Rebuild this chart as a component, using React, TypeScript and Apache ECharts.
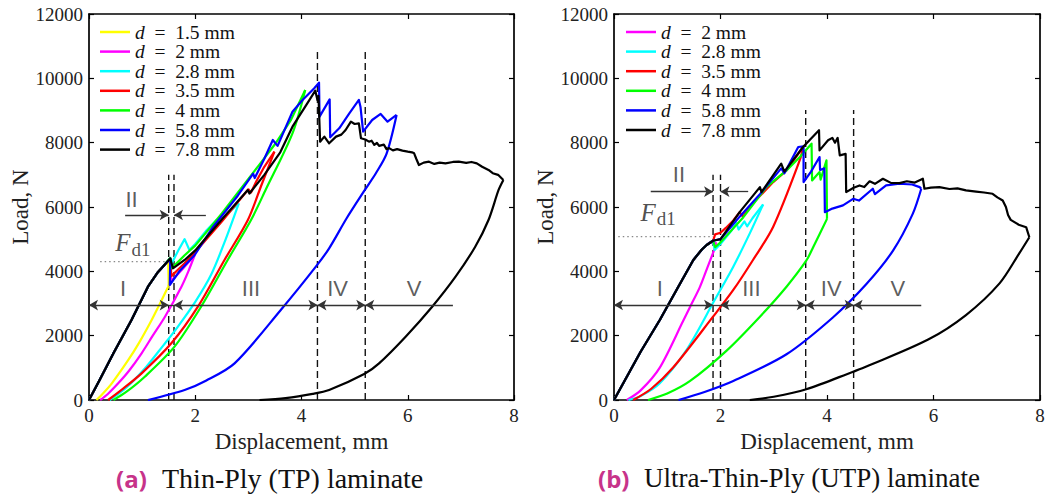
import React, { useEffect, useRef } from 'react';
import * as echarts from 'echarts';

const SERIF = '"Liberation Serif", "Times New Roman", serif';
const SANS = '"Liberation Sans", Arial, sans-serif';

// ---------- data: (a) Thin-Ply ----------
const tpNames = ['1.5 mm', '2 mm', '2.8 mm', '3.5 mm', '4 mm', '5.8 mm', '7.8 mm'];
const tpColors = ['#ffff00', '#ff00ff', '#00ffff', '#ff0000', '#00ff00', '#0000ff', '#000000'];
const tpInitial: number[][] = [[0, 0], [0.2, 620], [0.46, 1452], [0.8, 2487], [1.11, 3523], [1.3, 3980], [1.39, 4145]];
const tpD15Load: number[][] = [...tpInitial, [1.49, 4330], [1.5, 3600], [1.49, 3523]];
const tpD15Unload: number[][] = [[1.49, 3523], [1.3, 2880], [1.18, 2487], [0.95, 1800], [0.74, 1244], [0.43, 518], [0.25, 180], [0.14, 0]];
const tpD2Load: number[][] = [...tpInitial, [1.53, 4400], [1.55, 3700], [1.75, 4050], [1.99, 4508]];
const tpD2Unload: number[][] = [[1.99, 4508], [1.87, 4000], [1.74, 3523], [1.43, 2590], [1.2, 2000], [0.99, 1452], [0.75, 900], [0.55, 518], [0.35, 180], [0.21, 0]];
const tpD28Load: number[][] = [...tpInitial, [1.53, 4400], [1.56, 4250], [1.68, 4650], [1.8, 5000], [1.89, 4664], [2.0, 4850], [2.2, 5250], [2.4, 5596], [2.46, 5480], [2.55, 5700], [2.82, 6115]];
const tpD28Unload: number[][] = [[2.82, 6115], [2.55, 4900], [2.3, 3900], [2.0, 3050], [1.65, 2229], [1.4, 1700], [1.08, 1036], [0.7, 380], [0.39, 0]];
const tpD35Load: number[][] = [...tpInitial, [1.53, 4400], [1.55, 3850], [1.8, 4250], [2.0, 4600], [2.5, 5550], [3.0, 6550], [3.05, 6450], [3.15, 6800], [3.3, 7250], [3.49, 7720]];
const tpD35Unload: number[][] = [[3.49, 7720], [3.25, 6700], [2.99, 5596], [2.55, 4353], [2.05, 2901], [1.55, 1763], [0.99, 829], [0.6, 300], [0.36, 0]];
const tpD4Load: number[][] = [...tpInitial, [1.53, 4420], [1.56, 4100], [1.8, 4500], [2.0, 4800], [2.5, 5800], [2.96, 6788], [3.2, 7300], [3.5, 7950], [3.8, 8700], [4.07, 9638]];
const tpD4Unload: number[][] = [[4.07, 9638], [3.83, 8290], [3.33, 6550], [3.05, 5596], [2.61, 4353], [2.11, 2901], [1.61, 1659], [1.05, 725], [0.7, 250], [0.46, 0]];
const tpD58Load: number[][] = [...tpInitial, [1.53, 4400], [1.52, 3575], [1.71, 4021], [1.99, 4508], [2.33, 5372], [2.8, 6350], [3.09, 7034], [3.12, 6900], [3.3, 7500], [3.46, 8083], [3.55, 7900], [3.83, 8963], [4.02, 9327], [4.24, 9690], [4.33, 9865], [4.34, 8808], [4.53, 9347], [4.54, 8166], [4.71, 8446], [4.9, 8913], [5.08, 9327], [5.11, 9120], [5.16, 8342], [5.33, 8705], [5.49, 8892], [5.62, 8653], [5.79, 8861]];
const tpD58Unload: number[][] = [[5.79, 8861], [5.6, 7650], [5.4, 7050], [5.18, 6500], [4.85, 5650], [4.52, 4716], [4.27, 4145], [3.61, 2798], [2.74, 1140], [2.2, 600], [1.8, 311], [1.11, 0]];
const tpD78Load: number[][] = [...tpInitial, [1.53, 4400], [1.58, 4094], [1.8, 4353], [2.0, 4650], [2.49, 5596], [2.99, 6530], [3.02, 6420], [3.3, 7000], [3.6, 7700], [3.83, 8497], [4.1, 9200], [4.26, 9616], [4.3, 9327], [4.32, 9451], [4.35, 8031], [4.43, 8187], [4.52, 7980], [4.65, 8187], [4.75, 8250], [4.83, 8394], [4.93, 8653], [5.0, 8580], [5.08, 8600], [5.12, 8136], [5.2, 8100], [5.27, 8031], [5.32, 8060], [5.37, 7930], [5.42, 7990], [5.46, 7900], [5.55, 7940], [5.6, 7800], [5.65, 7830], [5.72, 7760], [5.8, 7800], [5.9, 7751], [6.0, 7720], [6.08, 7700], [6.12, 7669], [6.16, 7500], [6.21, 7306], [6.3, 7380], [6.4, 7409], [6.5, 7340], [6.6, 7380], [6.71, 7358], [6.85, 7400], [6.96, 7409], [7.1, 7370], [7.2, 7400], [7.3, 7358], [7.4, 7250], [7.52, 7151], [7.6, 7050], [7.7, 7000], [7.8, 6840]];
const tpD78Unload: number[][] = [[7.8, 6840], [7.71, 6529], [7.52, 5596], [7.27, 4766], [6.9, 3834], [6.46, 2901], [5.96, 1969], [5.46, 1140], [5.18, 808], [4.52, 311], [4.21, 190], [3.7, 60], [3.21, 0]];
const tpLoads = [tpD15Load, tpD2Load, tpD28Load, tpD35Load, tpD4Load, tpD58Load, tpD78Load];
const tpUnloads = [tpD15Unload, tpD2Unload, tpD28Unload, tpD35Unload, tpD4Unload, tpD58Unload, tpD78Unload];

const tpDashX = [1.5, 1.6, 4.3, 5.2];
const tpDashTop = [7000, 7000, 10830, 10830];
const tpFd1Line = [[0.21, 4300], [1.5, 4300]];
const tpArrowY = 2950;
const tpArrowSegs: [number, number, string][] = [[0, 1.5, 'both'], [1.5, 1.6, 'none'], [1.6, 4.3, 'both'], [4.3, 5.2, 'both'], [5.2, 6.85, 'start']];
const tpIIY = 5752;
const tpIIArrows = [[0.68, 1.5], [2.2, 1.6]];
const tpRegionText = ['I', 'II', 'III', 'IV', 'V'];
const tpRegionX = [0.64, 0.8, 3.05, 4.68, 6.12];
const tpRegionY = [3472, 6218, 3472, 3472, 3472];
const tpFPos = [0.64, 4897];
const tpSubPos = [0.98, 4694];

// ---------- data: (b) Ultra-Thin-Ply ----------
const utpNames = ['2 mm', '2.8 mm', '3.5 mm', '4 mm', '5.8 mm', '7.8 mm'];
const utpColors = ['#ff00ff', '#00ffff', '#ff0000', '#00ff00', '#0000ff', '#000000'];
const utpInitial: number[][] = [[0, 0], [0.5, 1500], [0.86, 2487], [1.2, 3500], [1.49, 4353], [1.65, 4680], [1.74, 4819]];
const utpD2Load: number[][] = [...utpInitial, [1.8, 4900], [1.93, 4870]];
const utpD2Unload: number[][] = [[1.93, 4870], [1.75, 4100], [1.61, 3501], [1.43, 2901], [1.3, 2462], [0.86, 1008], [0.5, 300], [0.24, 0]];
const utpD28Load: number[][] = [...utpInitial, [1.86, 4950], [1.89, 4664], [2.0, 4850], [2.2, 5250], [2.3, 5500], [2.34, 5300], [2.45, 5550], [2.5, 5400], [2.6, 5650], [2.8, 6080]];
const utpD28Unload: number[][] = [[2.8, 6080], [2.55, 5180], [2.24, 4144], [1.89, 3108], [1.36, 1554], [0.86, 518], [0.5, 120], [0.27, 0]];
const utpD35Load: number[][] = [...utpInitial, [1.86, 4950], [1.9, 5150], [2.0, 5200], [2.1, 5350], [2.24, 5579], [2.36, 5839], [2.42, 5700], [2.6, 6100], [2.99, 6774], [3.24, 7138], [3.55, 7865]];
const utpD35Unload: number[][] = [[3.55, 7865], [3.49, 7462], [2.99, 5388], [2.61, 4353], [2.24, 3420], [1.86, 2590], [1.11, 1008], [0.7, 350], [0.36, 0]];
const utpD4Load: number[][] = [...utpInitial, [1.86, 4950], [1.9, 4750], [2.0, 4900], [2.43, 5683], [2.86, 6618], [3.24, 7138], [3.49, 7553], [3.71, 7969], [3.72, 6826], [3.86, 7086], [3.88, 6850], [3.99, 7450], [4.0, 5631]];
const utpD4Unload: number[][] = [[4.0, 5631], [3.74, 4748], [3.61, 4330], [3.24, 3523], [2.74, 2590], [2.11, 1527], [1.43, 592], [1.0, 200], [0.64, 0]];
const utpD58Load: number[][] = [...utpInitial, [1.86, 4950], [2.0, 5000], [2.36, 5700], [2.74, 6400], [3.14, 7200], [3.2, 7050], [3.46, 7865], [3.56, 7886], [3.56, 6774], [3.7, 7100], [3.86, 7553], [3.87, 7150], [3.95, 7200], [3.96, 5839], [4.1, 5950], [4.3, 6050], [4.49, 6255], [4.6, 6200], [4.86, 6567], [4.9, 6400], [5.11, 6670], [5.36, 6722], [5.6, 6700], [5.74, 6618], [5.77, 6567]];
const utpD58Unload: number[][] = [[5.77, 6567], [5.61, 5787], [5.24, 4644], [4.74, 3605], [4.11, 2566], [3.24, 1423], [2.24, 592], [1.7, 250], [1.21, 0]];
const utpD78Load: number[][] = [...utpInitial, [1.86, 4950], [2.0, 5000], [2.36, 5839], [2.74, 6618], [2.77, 6463], [3.14, 7346], [3.2, 7100], [3.55, 7865], [3.85, 8385], [3.86, 7761], [4.02, 8073], [4.1, 8150], [4.15, 8000], [4.2, 8150], [4.24, 7605], [4.35, 7650], [4.36, 6463], [4.5, 6600], [4.61, 6670], [4.7, 6620], [4.8, 6800], [4.9, 6720], [5.05, 6878], [5.2, 6750], [5.36, 6743], [5.5, 6800], [5.65, 6760], [5.8, 6878], [5.83, 6567], [5.95, 6600], [6.11, 6618], [6.3, 6560], [6.45, 6580], [6.61, 6515], [6.8, 6480], [6.95, 6450], [7.11, 6411], [7.2, 6300], [7.3, 6203], [7.36, 6000], [7.4, 5750], [7.45, 5600], [7.6, 5450], [7.74, 5372], [7.8, 5060]];
const utpD78Unload: number[][] = [[7.8, 5060], [7.61, 4558], [7.24, 3626], [6.61, 2642], [5.9, 1880], [4.74, 1040], [4.49, 880], [3.61, 332], [3.0, 100], [2.55, 0]];
const utpLoads = [utpD2Load, utpD28Load, utpD35Load, utpD4Load, utpD58Load, utpD78Load];
const utpUnloads = [utpD2Unload, utpD28Unload, utpD35Unload, utpD4Unload, utpD58Unload, utpD78Unload];

const utpDashX = [1.86, 2.0, 3.6, 4.5];
const utpDashTop = [7000, 7000, 9016, 9016];
const utpFd1Line = [[0.08, 5081], [1.86, 5081]];
const utpArrowY = 2954;
const utpArrowSegs: [number, number, string][] = [[0, 1.86, 'both'], [1.86, 2.0, 'none'], [2.0, 3.6, 'both'], [3.6, 4.5, 'both'], [4.5, 5.77, 'start']];
const utpIIY = 6476;
const utpIIArrows = [[0.69, 1.86], [2.52, 2.0]];
const utpRegionText = ['I', 'II', 'III', 'IV', 'V'];
const utpRegionX = [0.86, 1.22, 2.58, 4.08, 5.33];
const utpRegionY = [3472, 6995, 3472, 3472, 3472];
const utpFPos = [0.64, 5829];
const utpSubPos = [0.98, 5627];

const captionA = ['(a)', 'Thin-Ply (TP) laminate'];
const captionB = ['(b)', 'Ultra-Thin-Ply (UTP) laminate'];

function buildGridSeries(g: number, names: string[], colors: string[], loads: number[][][], unloads: number[][][], dashX: number[], dashTop: number[], fd1: number[][], arrowY: number, segs: [number, number, string][], iiY: number, iiArrows: number[][], regText: string[], regX: number[], regY: number[], fPos: number[], subPos: number[]) {
  const ax = { xAxisIndex: g * 2, yAxisIndex: g * 2 };
  const out: any[] = [];
  dashX.forEach((x, i) => {
    out.push({ ...ax, type: 'line', name: '_dash' + g + i, data: [[x, 0], [x, dashTop[i]]], showSymbol: false, symbol: 'none', silent: true, z: 1,
      lineStyle: { color: '#111', width: 1.4, type: [7, 4] } });
  });
  out.push({ ...ax, type: 'line', name: '_fd1' + g, data: fd1, showSymbol: false, symbol: 'none', silent: true, z: 1,
    lineStyle: { color: '#888', width: 1.2, type: [1.5, 3] } });
  const arrowSym = (on: boolean) => (on ? 'arrow' : 'none');
  const segData = segs.map(([a, b, mode]) => [
    { coord: [a, arrowY], symbol: arrowSym(mode === 'both' || mode === 'start') },
    { coord: [b, arrowY], symbol: arrowSym(mode === 'both' || mode === 'end') },
  ]);
  const iiData = iiArrows.map(([a, b]) => [
    { coord: [a, iiY], symbol: 'none' },
    { coord: [b, iiY], symbol: 'arrow' },
  ]);
  out.push({ ...ax, type: 'line', name: '_arrows' + g, data: [], showSymbol: false, silent: true, z: 2,
    markLine: { silent: true, animation: false, symbolSize: [8, 9], label: { show: false },
      lineStyle: { color: '#333', width: 1.3, type: 'solid' }, emphasis: { disabled: true },
      data: [...segData, ...iiData] } });
  loads.forEach((d, i) => {
    out.push({ ...ax, type: 'line', name: names[i], data: d, showSymbol: false, symbol: 'none', silent: true, z: 3,
      lineStyle: { color: colors[i], width: 2.2, join: 'round' }, itemStyle: { color: colors[i] } });
    // unloading branch: a smooth curve back to zero load
    out.push({ ...ax, type: 'line', name: names[i], data: unloads[i], showSymbol: false, symbol: 'none', silent: true, z: 3,
      smooth: 0.3,
      lineStyle: { color: colors[i], width: 2.2, join: 'round' }, itemStyle: { color: colors[i] } });
  });
  const labelData: any[] = regText.map((t, i) => ({ value: [regX[i], regY[i]],
    label: { show: true, formatter: t, position: 'inside', fontFamily: SANS, fontSize: 22, color: '#333' } }));
  labelData.push({ value: fPos, label: { show: true, formatter: 'F', position: 'inside', fontFamily: SERIF, fontStyle: 'italic', fontSize: 25, color: '#222' } });
  labelData.push({ value: subPos, label: { show: true, formatter: 'd1', position: 'inside', fontFamily: SERIF, fontSize: 19, color: '#222' } });
  out.push({ ...ax, type: 'scatter', name: '_labels' + g, data: labelData, symbolSize: 1, silent: true, z: 4,
    itemStyle: { color: 'rgba(0,0,0,0)' } });
  return out;
}

const plainNum = (v: number) => String(v);

function xAxes(gridIndex: number) {
  const line = { show: true, onZero: false, lineStyle: { color: '#000', width: 1.7 } };
  const tick = { show: true, inside: true, length: 5, lineStyle: { color: '#000', width: 1.2 } };
  return [
    { type: 'value', gridIndex, min: 0, max: 8, interval: 2, position: 'bottom', axisLine: line, axisTick: tick,
      axisLabel: { fontFamily: SERIF, fontSize: 19, color: '#222', margin: 6, formatter: plainNum }, splitLine: { show: false },
      name: 'Displacement, mm', nameLocation: 'middle', nameGap: 23, nameTextStyle: { fontFamily: SERIF, fontSize: 23, color: '#222' } },
    { type: 'value', gridIndex, min: 0, max: 8, interval: 2, position: 'top', axisLine: line, axisTick: tick,
      axisLabel: { show: false }, splitLine: { show: false } },
  ];
}
function yAxes(gridIndex: number) {
  const line = { show: true, onZero: false, lineStyle: { color: '#000', width: 1.7 } };
  const tick = { show: true, inside: true, length: 5, lineStyle: { color: '#000', width: 1.2 } };
  return [
    { type: 'value', gridIndex, min: 0, max: 12000, interval: 2000, position: 'left', axisLine: line, axisTick: tick,
      axisLabel: { fontFamily: SERIF, fontSize: 19, color: '#222', margin: 6, formatter: plainNum }, splitLine: { show: false },
      name: 'Load, N', nameLocation: 'middle', nameGap: 57, nameTextStyle: { fontFamily: SERIF, fontSize: 23, color: '#222' } },
    { type: 'value', gridIndex, min: 0, max: 12000, interval: 2000, position: 'right', axisLine: line, axisTick: tick,
      axisLabel: { show: false }, splitLine: { show: false } },
  ];
}

function legend(names: string[], left: number) {
  return {
    data: names, left, top: 22, orient: 'vertical', padding: 0, itemGap: -0.4, itemWidth: 30, itemHeight: 2.5, icon: 'rect',
    selectedMode: false,
    formatter: (n: string) => `{i|d}{r|\u2002=\u2002${n}}`,
    textStyle: { color: '#111', fontFamily: SERIF, fontSize: 19.5,
      rich: { i: { fontFamily: SERIF, fontStyle: 'italic', fontSize: 19.5 }, r: { fontFamily: SERIF, fontSize: 19.5 } } },
  };
}

export default function App() {
  const ref = useRef<HTMLDivElement>(null);
  useEffect(() => {
    if (!ref.current) return;
    const chart = echarts.init(ref.current, null, { renderer: 'svg' });
    const option: any = {
      animation: false,
      backgroundColor: '#fff',
      grid: [
        { left: 89, top: 14, width: 425, height: 386 },
        { left: 614, top: 14, width: 426, height: 386 },
      ],
      xAxis: [...xAxes(0), ...xAxes(1)],
      yAxis: [...yAxes(0), ...yAxes(1)],
      legend: [legend(tpNames, 100), legend(utpNames, 626)],
      series: [
        ...buildGridSeries(0, tpNames, tpColors, tpLoads, tpUnloads, tpDashX, tpDashTop, tpFd1Line, tpArrowY, tpArrowSegs, tpIIY, tpIIArrows, tpRegionText, tpRegionX, tpRegionY, tpFPos, tpSubPos),
        ...buildGridSeries(1, utpNames, utpColors, utpLoads, utpUnloads, utpDashX, utpDashTop, utpFd1Line, utpArrowY, utpArrowSegs, utpIIY, utpIIArrows, utpRegionText, utpRegionX, utpRegionY, utpFPos, utpSubPos),
      ],
      graphic: [
        { type: 'text', x: 116, y: 478, style: { text: captionA[0], font: 'bold 24px "Open Sans", sans-serif', fill: '#c7338a', verticalAlign: 'middle' } },
        { type: 'text', x: 162, y: 478, style: { text: captionA[1], font: `28px ${SERIF}`, fill: '#111', verticalAlign: 'middle' } },
        { type: 'text', x: 598, y: 478, style: { text: captionB[0], font: 'bold 24px "Open Sans", sans-serif', fill: '#c7338a', verticalAlign: 'middle' } },
        { type: 'text', x: 644, y: 478, style: { text: captionB[1], font: `27px ${SERIF}`, fill: '#111', verticalAlign: 'middle' } },
      ],
    };
    chart.setOption(option);
    return () => chart.dispose();
  }, []);
  return <div ref={ref} style={{ position: 'fixed', left: 0, top: 0, width: 1048, height: 499, background: '#fff' }} />;
}
